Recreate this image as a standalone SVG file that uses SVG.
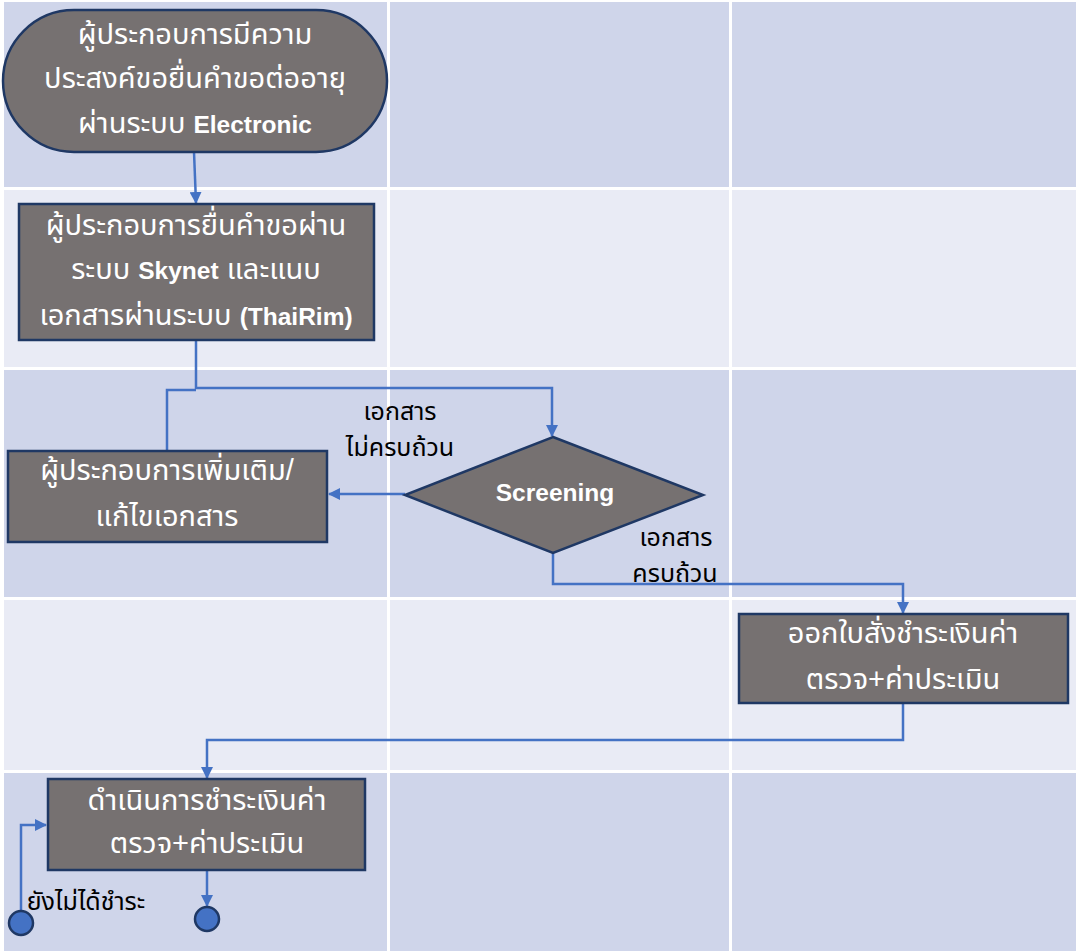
<svg xmlns="http://www.w3.org/2000/svg" width="1076" height="951" viewBox="0 0 1076 951">
<defs>
<marker id="ah" markerWidth="12" markerHeight="12" refX="11" refY="6" orient="auto" markerUnits="userSpaceOnUse" viewBox="0 0 12 12">
<path d="M0,0 L12,6 L0,12 z" fill="#4472C4"/>
</marker>
<style>
.bg1{fill:#CFD5EA}
.bg2{fill:#E9EBF5}
.node{fill:#767171;stroke:#1F3864;stroke-width:2.5}
.nt{fill:#FFFFFF;font-family:"Liberation Sans","Noto Sans Thai","Noto Sans",sans-serif;font-size:29px;text-anchor:middle}
.lt{fill:#000000;font-family:"Liberation Sans","Noto Sans Thai","Noto Sans",sans-serif;font-size:25px;text-anchor:middle}
.b{font-weight:bold;font-size:24.5px}
.con{fill:none;stroke:#4472C4;stroke-width:2.5}
.end{fill:#4472C4;stroke:#1F3864;stroke-width:2.5}
</style>
</defs>
<rect x="0" y="0" width="1076" height="951" fill="#FFFFFF"/>
<g id="grid">
<rect class="bg1" x="4" y="2" width="383" height="185"/>
<rect class="bg1" x="390" y="2" width="339" height="185"/>
<rect class="bg1" x="732" y="2" width="344" height="185"/>
<rect class="bg2" x="4" y="190" width="383" height="177"/>
<rect class="bg2" x="390" y="190" width="339" height="177"/>
<rect class="bg2" x="732" y="190" width="344" height="177"/>
<rect class="bg1" x="4" y="370" width="383" height="227"/>
<rect class="bg1" x="390" y="370" width="339" height="227"/>
<rect class="bg1" x="732" y="370" width="344" height="227"/>
<rect class="bg2" x="4" y="600" width="383" height="170"/>
<rect class="bg2" x="390" y="600" width="339" height="170"/>
<rect class="bg2" x="732" y="600" width="344" height="170"/>
<rect class="bg1" x="4" y="773" width="383" height="178"/>
<rect class="bg1" x="390" y="773" width="339" height="178"/>
<rect class="bg1" x="732" y="773" width="344" height="178"/>
</g>
<g id="connectors">
<path class="con" d="M194,152 L196,203" marker-end="url(#ah)"/>
<path class="con" d="M196,340 L196,388 L552,388 L552,436" marker-end="url(#ah)"/>
<path class="con" d="M167,451 L167,390 L196,390"/>
<path class="con" d="M405,494 L329,494" marker-end="url(#ah)"/>
<path class="con" d="M553,553 L553,584 L903,584 L903,613" marker-end="url(#ah)"/>
<path class="con" d="M903,703 L903,740 L207,740 L207,778" marker-end="url(#ah)"/>
<path class="con" d="M207,870 L207,906" marker-end="url(#ah)"/>
<path class="con" d="M21,911 L21,825 L46,825" marker-end="url(#ah)"/>
</g>
<g id="labels">
<text class="lt" x="400" y="420">เอกสาร</text>
<text class="lt" x="400" y="456">ไม่ครบถ้วน</text>
<text class="lt" x="676" y="546">เอกสาร</text>
<text class="lt" x="675" y="582">ครบถ้วน</text>
<text class="lt" x="86" y="910">ยังไม่ได้ชำระ</text>
</g>
<g id="start">
<rect class="node" x="3" y="10" width="384" height="142" rx="71" ry="71"/>
<text class="nt" x="195" y="44">ผู้ประกอบการมีความ</text>
<text class="nt" x="195" y="88">ประสงค์ขอยื่นคำขอต่ออายุ</text>
<text class="nt" x="195" y="133">ผ่านระบบ <tspan class="b">Electronic</tspan></text>
</g>
<g id="submit">
<rect class="node" x="19" y="204" width="355" height="136"/>
<text class="nt" x="196" y="235">ผู้ประกอบการยื่นคำขอผ่าน</text>
<text class="nt" x="196" y="279">ระบบ <tspan class="b">Skynet</tspan> และแนบ</text>
<text class="nt" x="196" y="325">เอกสารผ่านระบบ <tspan class="b">(ThaiRim)</tspan></text>
</g>
<g id="fix">
<rect class="node" x="8" y="451" width="319" height="91"/>
<text class="nt" x="167" y="480">ผู้ประกอบการเพิ่มเติม/</text>
<text class="nt" x="167" y="526">แก้ไขเอกสาร</text>
</g>
<g id="screening">
<polygon class="node" points="553,437 703,495 553,553 405,495"/>
<text class="nt b" x="555" y="501">Screening</text>
</g>
<g id="invoice">
<rect class="node" x="739" y="614" width="329" height="89"/>
<text class="nt" x="903" y="643">ออกใบสั่งชำระเงินค่า</text>
<text class="nt" x="903" y="689">ตรวจ+ค่าประเมิน</text>
</g>
<g id="pay">
<rect class="node" x="48" y="779" width="317" height="91"/>
<text class="nt" x="207" y="810">ดำเนินการชำระเงินค่า</text>
<text class="nt" x="207" y="853">ตรวจ+ค่าประเมิน</text>
</g>
<g id="end1">
<circle class="end" cx="207" cy="919" r="12"/>
</g>
<g id="end2">
<circle class="end" cx="21" cy="923" r="12"/>
</g>
</svg>
